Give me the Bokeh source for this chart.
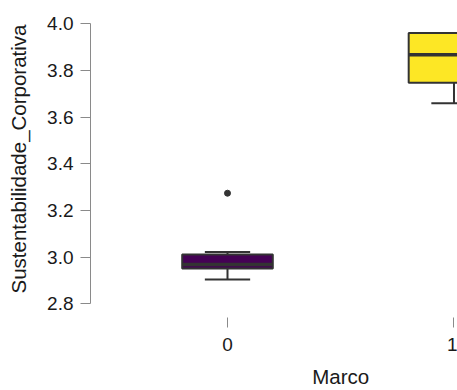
from bokeh.plotting import figure
from bokeh.models import (Range1d, FixedTicker, NumeralTickFormatter, ColumnDataSource,
                          LinearAxis)
from bokeh.embed import file_html
from bokeh.resources import INLINE

# Data
categories = [0, 1]
q1 = [2.951, 3.747]
median = [2.968, 3.867]
q3 = [3.011, 3.961]
whisker_low = [2.904, 3.660]
whisker_high = [3.022, 3.961]
fill_colors = ["#440154", "#FDE725"]
outlier_x = [0]
outlier_y = [3.274]
y_ticks = [2.8, 3.0, 3.2, 3.4, 3.6, 3.8, 4.0]
x_ticks = [0, 1]
x_tick_labels = ["0", "1"]
x_title = "Marco"
y_title = "Sustentabilidade_Corporativa"

BOX_HALF = 0.2
CAP_HALF = 0.1
LINE_COL = "#333333"
FONT = "Liberation Sans"

p = figure(width=457, height=390, output_backend="svg", toolbar_location=None,
           x_range=Range1d(-0.6049, 1.0155), y_range=Range1d(2.7413, 4.0999),
           min_border_left=90, min_border_right=0, min_border_top=0, min_border_bottom=73)
p.outline_line_color = None
p.grid.visible = False
p.background_fill_color = "white"

src = ColumnDataSource(dict(
    x=categories,
    left=[c - BOX_HALF for c in categories],
    right=[c + BOX_HALF for c in categories],
    cl=[c - CAP_HALF for c in categories],
    cr=[c + CAP_HALF for c in categories],
    q1=q1, q3=q3, med=median, lo=whisker_low, hi=whisker_high, fill=fill_colors,
))

# whiskers
p.segment(x0="x", y0="q3", x1="x", y1="hi", source=src, line_color=LINE_COL, line_width=2)
p.segment(x0="x", y0="q1", x1="x", y1="lo", source=src, line_color=LINE_COL, line_width=2)
# caps
p.segment(x0="cl", y0="hi", x1="cr", y1="hi", source=src, line_color=LINE_COL, line_width=2)
p.segment(x0="cl", y0="lo", x1="cr", y1="lo", source=src, line_color=LINE_COL, line_width=2)
# boxes
p.quad(left="left", right="right", bottom="q1", top="q3", source=src,
       fill_color="fill", line_color=LINE_COL, line_width=2)
# medians
p.segment(x0="left", y0="med", x1="right", y1="med", source=src, line_color=LINE_COL, line_width=3.5)
# outliers
p.scatter(outlier_x, outlier_y, size=6, color=LINE_COL)

# y axis
ya = p.yaxis[0]
ya.ticker = FixedTicker(ticks=y_ticks)
ya.formatter = NumeralTickFormatter(format="0.0")
ya.bounds = (2.8, 4.0)
ya.axis_line_color = "#8a8a8a"
ya.major_tick_line_color = "#8a8a8a"
ya.major_tick_out = 10
ya.major_tick_in = 0
ya.minor_tick_line_color = None
ya.major_label_standoff = 7
ya.major_label_text_font = FONT
ya.major_label_text_font_size = "19px"
ya.major_label_text_color = "#1a1a1a"
ya.axis_label = y_title
ya.axis_label_text_font = FONT
ya.axis_label_text_font_size = "20.5px"
ya.axis_label_text_font_style = "normal"
ya.axis_label_text_color = "#1a1a1a"
ya.axis_label_standoff = 14

# x axis
xa = p.xaxis[0]
xa.ticker = FixedTicker(ticks=x_ticks)
xa.major_label_overrides = {t: l for t, l in zip(x_ticks, x_tick_labels)}
xa.axis_line_color = None
xa.major_tick_line_color = "#8a8a8a"
xa.major_tick_out = 10
xa.major_tick_in = 0
xa.minor_tick_line_color = None
xa.major_label_standoff = 10
xa.major_label_text_font = FONT
xa.major_label_text_font_size = "19px"
xa.major_label_text_color = "#1a1a1a"

# x title: a second, line-less axis whose single label sits midway between the categories
mid = (x_ticks[0] + x_ticks[-1]) / 2
ta = LinearAxis(ticker=FixedTicker(ticks=[mid]), major_label_overrides={mid: x_title},
                axis_line_color=None, major_tick_line_color=None, minor_tick_line_color=None,
                major_tick_out=0, major_tick_in=0, major_label_standoff=11,
                major_label_text_font=FONT, major_label_text_font_size="20.5px",
                major_label_text_color="#1a1a1a")
p.add_layout(ta, "below")

open("out.html", "w").write(file_html(p, INLINE))
